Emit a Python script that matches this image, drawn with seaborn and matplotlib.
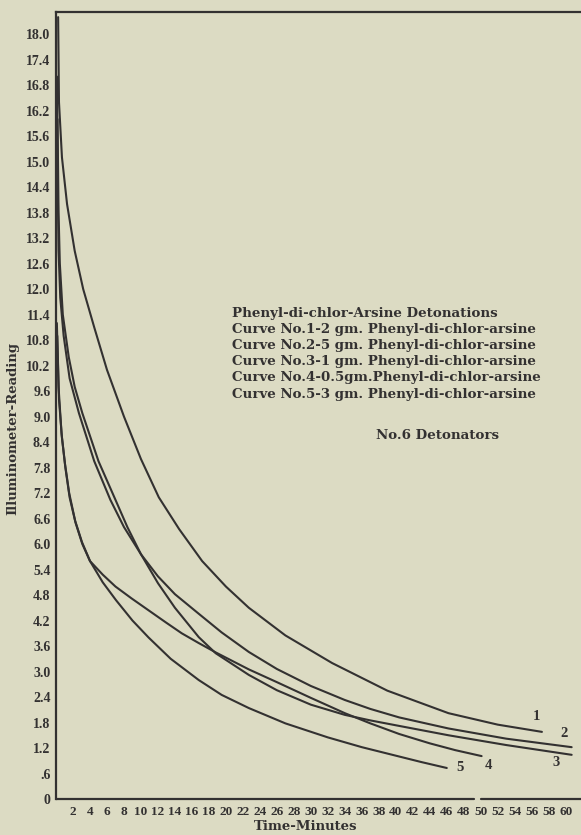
import pandas as pd
import matplotlib.pyplot as plt
import seaborn as sns

sns.set_style("white")
plt.rcParams['font.family'] = ['Liberation Serif', 'DejaVu Serif']

# readings taken off the chart: time in minutes, illuminometer reading
c1_t = [0.25, 0.35, 0.7, 1.3, 2.2, 3.2, 4.5, 6.0, 8.0, 10.0, 12.1, 14.5, 17.2, 20.0, 22.7, 27.0, 32.5, 39.0, 46.2, 52.0, 57.2]
c1_r = [18.4, 16.4, 15.1, 14.0, 12.9, 12.0, 11.1, 10.1, 9.0, 8.0, 7.1, 6.35, 5.6, 5.0, 4.5, 3.85, 3.2, 2.55, 2.02, 1.75, 1.58]

c2_t = [0.12, 0.2, 0.3, 0.5, 0.9, 1.6, 2.7, 4.5, 6.4, 8.0, 10.0, 12.0, 14.0, 16.8, 19.5, 22.7, 26.0, 30.0, 34.0, 37.0, 40.4, 46.2, 53.0, 60.7]
c2_r = [17.0, 14.5, 12.9, 11.8, 10.9, 9.9, 9.08, 7.95, 7.04, 6.4, 5.76, 5.24, 4.82, 4.36, 3.92, 3.46, 3.06, 2.66, 2.33, 2.12, 1.92, 1.66, 1.42, 1.22]

c3_t = [0.18, 0.3, 0.45, 0.8, 1.5, 2.2, 3.1, 5.0, 7.0, 8.4, 10.0, 12.0, 14.0, 16.8, 18.8, 22.7, 26.0, 30.0, 34.0, 37.0, 40.4, 46.2, 53.0, 60.7]
c3_r = [16.0, 13.8, 12.6, 11.4, 10.4, 9.7, 9.08, 7.95, 7.04, 6.4, 5.76, 5.08, 4.5, 3.81, 3.43, 2.92, 2.56, 2.22, 1.98, 1.85, 1.72, 1.5, 1.27, 1.04]

c4_t = [0.1, 0.3, 0.65, 1.05, 1.55, 2.25, 3.05, 4.0, 5.5, 7.0, 8.9, 10.9, 12.9, 14.8, 16.8, 18.8, 22.7, 26.0, 30.0, 34.0, 37.0, 40.4, 44.0, 47.0, 50.1]
c4_r = [11.2, 9.7, 8.6, 7.9, 7.2, 6.55, 6.05, 5.6, 5.28, 5.0, 4.72, 4.44, 4.16, 3.9, 3.67, 3.45, 3.05, 2.75, 2.38, 2.02, 1.78, 1.53, 1.31, 1.15, 1.01]

c5_t = [0.15, 0.35, 0.7, 1.1, 1.6, 2.3, 3.1, 4.0, 5.5, 7.06, 9.0, 10.9, 13.5, 16.8, 19.5, 22.7, 27.0, 32.0, 36.0, 40.4, 43.0, 46.0]
c5_r = [10.9, 9.4, 8.5, 7.8, 7.1, 6.5, 6.0, 5.6, 5.1, 4.68, 4.2, 3.8, 3.3, 2.8, 2.45, 2.14, 1.78, 1.45, 1.22, 1.0, 0.87, 0.73]

curve_names = ['1', '2', '3', '4', '5']
curve_t = [c1_t, c2_t, c3_t, c4_t, c5_t]
curve_r = [c1_r, c2_r, c3_r, c4_r, c5_r]
# where the curve numbers are printed (minutes, reading)
label_t = [56.6, 59.8, 58.9, 50.9, 47.6]
label_r = [1.93, 1.55, 0.85, 0.78, 0.73]

y_ticks = [round(0.6 * i, 1) for i in range(31)]
y_ticklabels = ['0' if v == 0 else ('.6' if v == 0.6 else f'{v:.1f}') for v in y_ticks]
x_ticks = list(range(2, 61, 2))

legend_lines = [
    'Phenyl-di-chlor-Arsine Detonations',
    'Curve No.1-2 gm. Phenyl-di-chlor-arsine',
    'Curve No.2-5 gm. Phenyl-di-chlor-arsine',
    'Curve No.3-1 gm. Phenyl-di-chlor-arsine',
    'Curve No.4-0.5gm.Phenyl-di-chlor-arsine',
    'Curve No.5-3 gm. Phenyl-di-chlor-arsine',
]

rows = []
for name, ts, rs in zip(curve_names, curve_t, curve_r):
    for t, r in zip(ts, rs):
        rows.append({'curve': name, 'minutes': t, 'reading': r})
df = pd.DataFrame(rows)

paper = '#dcdbc3'
ink = '#333131'

fig = plt.figure(figsize=(5.81, 8.35), dpi=100, facecolor=paper)
ax = fig.add_axes([0.0964, 0.0431, 0.9036, 0.9425])
ax.set_facecolor(paper)

sns.lineplot(data=df, x='minutes', y='reading', hue='curve', units='curve',
             estimator=None, sort=False, palette=[ink] * 5, linewidth=1.5,
             legend=False, ax=ax)

ax.set_xlim(0, 61.8)
ax.set_ylim(0, 18.52)

ax.set_yticks(y_ticks)
ax.set_yticklabels(y_ticklabels)
ax.set_xticks(x_ticks)
ax.set_xticklabels([str(v) for v in x_ticks])
ax.tick_params(axis='y', direction='in', length=5, width=1.2, pad=4,
               labelsize=10, colors=ink)
ax.tick_params(axis='x', direction='in', length=3, width=1.2, pad=5,
               labelsize=9.5, colors=ink)
for lab in ax.get_xticklabels() + ax.get_yticklabels():
    lab.set_fontweight('bold')

for side in ['left', 'top']:
    ax.spines[side].set_color(ink)
    ax.spines[side].set_linewidth(1.6)
ax.spines['right'].set_visible(False)
ax.spines['bottom'].set_visible(False)
# bottom axis is printed in two pieces with a small gap before 50
ax.axhline(0, xmin=0, xmax=49.2 / 61.8, color=ink, lw=1.6, clip_on=False)
ax.axhline(0, xmin=50.0 / 61.8, xmax=1, color=ink, lw=1.6, clip_on=False)

ax.set_xlabel('Time-Minutes', fontsize=9.5, fontweight='bold', color=ink,
              family='DejaVu Serif')
ax.xaxis.set_label_coords(0.476, -0.027)
ax.set_ylabel('Illuminometer-Reading', fontsize=9.5, fontweight='bold', color=ink,
              family='DejaVu Serif')
ax.yaxis.set_label_coords(-0.07, 0.471)

for name, t, r in zip(curve_names, label_t, label_r):
    ax.text(t, r, name, fontsize=10.5, fontweight='bold', color=ink,
            ha='center', va='center')

for i, line in enumerate(legend_lines):
    ax.text(0.335, 0.6175 - i * 0.0206, line, transform=ax.transAxes,
            fontsize=9.6, fontweight='bold', color=ink, family='DejaVu Serif',
            ha='left', va='center')
ax.text(0.61, 0.4625, 'No.6 Detonators', transform=ax.transAxes,
        fontsize=9.6, fontweight='bold', color=ink, family='DejaVu Serif',
        ha='left', va='center')

fig.savefig('out.png', dpi=100, facecolor=paper)
